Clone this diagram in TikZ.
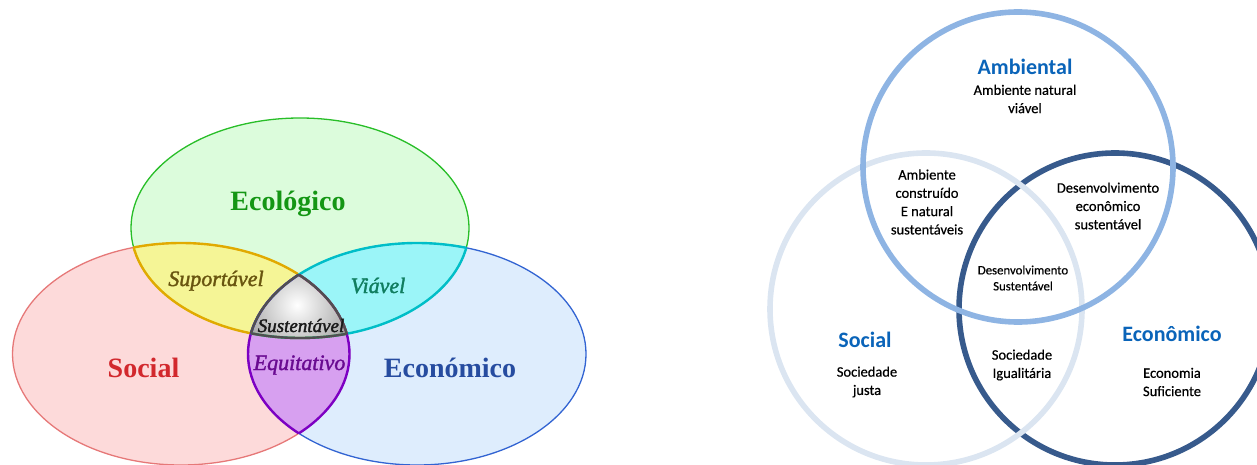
\documentclass[tikz,border=0pt]{standalone}
\usepackage{fontspec}
\setmainfont{Liberation Serif}
\newfontfamily\carl{Carlito}
\newcommand\heavytext[1]{\special{pdf:literal direct 2 Tr 0.35 w}#1\special{pdf:literal direct 0 Tr}}
\newcommand\firmtext{\special{pdf:literal direct 2 Tr 0.08 w}}
\definecolor{gfill}{RGB}{220,252,220}
\definecolor{rfill}{RGB}{253,218,218}
\definecolor{bfill}{RGB}{222,237,253}
\definecolor{yfill}{RGB}{245,245,150}
\definecolor{cfill}{RGB}{155,245,248}
\definecolor{pfill}{RGB}{215,160,240}
\definecolor{gline}{RGB}{40,190,40}
\definecolor{rline}{RGB}{230,120,120}
\definecolor{bline}{RGB}{50,100,210}
\definecolor{yline}{RGB}{225,170,0}
\definecolor{cline}{RGB}{0,190,200}
\definecolor{pline}{RGB}{125,0,195}
\definecolor{tline}{RGB}{80,80,80}
\definecolor{ecotxt}{RGB}{20,150,20}
\definecolor{soctxt}{RGB}{210,40,45}
\definecolor{econtxt}{RGB}{38,76,160}
\definecolor{suptxt}{RGB}{105,85,15}
\definecolor{viatxt}{RGB}{16,125,95}
\definecolor{equtxt}{RGB}{105,10,145}
\definecolor{ambring}{RGB}{142,180,227}
\definecolor{socring}{RGB}{219,229,241}
\definecolor{ecoring}{RGB}{55,90,140}
\definecolor{titleblue}{RGB}{10,100,185}
\tikzset{
  bigname/.style={anchor=base, font=\fontsize{28}{30}\selectfont\bfseries},
  itname/.style={anchor=base, font=\fontsize{22}{24}\selectfont\itshape},
  thinline/.style={line width=1.3pt},
  borderline/.style={line width=2.4pt},
  ring/.style={line width=5.6pt},
  rtitle/.style={text=titleblue, font=\carl\fontsize{22}{24}\selectfont\bfseries},
  rtext/.style={align=center, font=\carl\fontsize{14.5}{18.3}\selectfont\firmtext},
  rsmall/.style={align=center, font=\carl\fontsize{12.8}{16}\selectfont\firmtext},
}
\begin{document}
\begin{tikzpicture}[x=1pt,y=-1pt]
\useasboundingbox (0,0) rectangle (1257,465);
% ---- left diagram: fills
\fill[gfill] (300,228) ellipse [x radius=169pt, y radius=110pt];
\fill[rfill] (181,354) ellipse [x radius=168.5pt, y radius=111pt];
\fill[bfill] (417,354) ellipse [x radius=169pt, y radius=111pt];
\begin{scope}
  \clip (300,228) ellipse [x radius=169pt, y radius=110pt];
  \fill[yfill] (181,354) ellipse [x radius=168.5pt, y radius=111pt];
  \fill[cfill] (417,354) ellipse [x radius=169pt, y radius=111pt];
\end{scope}
\begin{scope}
  \clip (181,354) ellipse [x radius=168.5pt, y radius=111pt];
  \fill[pfill] (417,354) ellipse [x radius=169pt, y radius=111pt];
\end{scope}
\begin{scope}
  \clip (300,228) ellipse [x radius=169pt, y radius=110pt];
  \clip (181,354) ellipse [x radius=168.5pt, y radius=111pt];
  \clip (417,354) ellipse [x radius=169pt, y radius=111pt];
  \fill[black!45] (240,260) rectangle (360,345);
  \shade[inner color=white, outer color=black!40] (297,305) circle [radius=62pt];
\end{scope}
% ---- left diagram: outlines
\draw[gline, thinline] (300,228) ellipse [x radius=169pt, y radius=110pt];
\draw[rline, thinline] (181,354) ellipse [x radius=168.5pt, y radius=111pt];
\draw[bline, thinline] (417,354) ellipse [x radius=169pt, y radius=111pt];
\begin{scope}
  \clip (300,228) ellipse [x radius=169pt, y radius=110pt];
  \draw[yline, borderline] (181,354) ellipse [x radius=168.5pt, y radius=111pt];
  \draw[cline, borderline] (417,354) ellipse [x radius=169pt, y radius=111pt];
\end{scope}
\begin{scope}
  \clip (181,354) ellipse [x radius=168.5pt, y radius=111pt];
  \draw[yline, borderline] (300,228) ellipse [x radius=169pt, y radius=110pt];
  \draw[pline, borderline] (417,354) ellipse [x radius=169pt, y radius=111pt];
\end{scope}
\begin{scope}
  \clip (417,354) ellipse [x radius=169pt, y radius=111pt];
  \draw[cline, borderline] (300,228) ellipse [x radius=169pt, y radius=110pt];
  \draw[pline, borderline] (181,354) ellipse [x radius=168.5pt, y radius=111pt];
\end{scope}
\begin{scope}
  \clip (300,228) ellipse [x radius=169pt, y radius=110pt];
  \clip (181,354) ellipse [x radius=168.5pt, y radius=111pt];
  \draw[tline, borderline] (417,354) ellipse [x radius=169pt, y radius=111pt];
\end{scope}
\begin{scope}
  \clip (300,228) ellipse [x radius=169pt, y radius=110pt];
  \clip (417,354) ellipse [x radius=169pt, y radius=111pt];
  \draw[tline, borderline] (181,354) ellipse [x radius=168.5pt, y radius=111pt];
\end{scope}
\begin{scope}
  \clip (181,354) ellipse [x radius=168.5pt, y radius=111pt];
  \clip (417,354) ellipse [x radius=169pt, y radius=111pt];
  \draw[tline, borderline] (300,228) ellipse [x radius=169pt, y radius=110pt];
\end{scope}
% ---- left diagram: labels
\node[bigname, text=ecotxt] (eco) at (288,210) {Ecológico};
\node[bigname, text=soctxt] (soc) at (143.5,377) {Social};
\node[bigname, text=econtxt] (econ) at (450,377) {Económico};
\node[itname, text=suptxt] (sup) at (216,286) {\heavytext{Suportável}};
\node[itname, text=viatxt] (via) at (378,293) {\heavytext{Viável}};
\node[itname, text=equtxt] (equ) at (299.5,370) {\heavytext{Equitativo}};
\node[anchor=base, font=\fontsize{19}{21}\selectfont\itshape, text=black!90] (sus) at (301,332) {\heavytext{Sustentável}};
% ---- right diagram: rings
\draw[ecoring, ring] (1115,309) circle [radius=156pt];
\draw[socring, ring] (926,309) circle [radius=156pt];
\draw[ambring, ring] (1018,167) circle [radius=155pt];
% ---- right diagram: labels
\node[rtitle] (amb) at (1025,67) {Ambiental};
\node[rtext] (ambt) at (1025,99) {Ambiente natural\\viável};
\node[rtext] (as) at (927,202) {Ambiente\\construído\\E natural\\sustentáveis};
\node[rtext] (ae) at (1108,206) {Desenvolvimento\\econômico\\sustentável};
\node[rsmall] (ds) at (1023,278) {Desenvolvimento\\Sustentável};
\node[rtitle] (rsoc) at (865,340) {Social};
\node[rtext] (rsoct) at (867,382) {Sociedade\\justa};
\node[rtext] (se) at (1022,365) {Sociedade\\Igualitária};
\node[rtitle] (recon) at (1172,334) {Econômico};
\node[rtext] (recont) at (1172,382) {Economia\\Suficiente};
\end{tikzpicture}
\end{document}
